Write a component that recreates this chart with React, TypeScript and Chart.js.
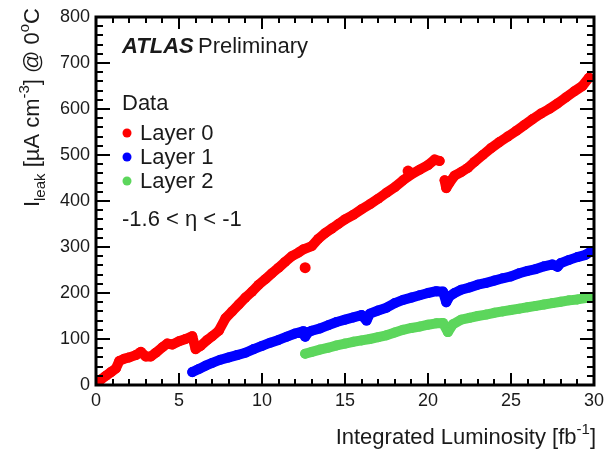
import React, { useEffect, useRef } from "react";
import { Chart, registerables } from "chart.js";

Chart.register(...registerables);

// ---- Data ----
const layer0Lumi = [
  0.0, 0.3, 0.6, 0.9, 1.2, 1.4, 1.7, 2.0, 2.4, 2.7, 3.0, 3.3, 3.6, 4.0, 4.3, 4.6, 5.0, 5.4, 5.8, 6.0,
  6.3, 6.7, 7.0, 7.4, 7.8, 8.2, 8.6, 9.0, 9.4, 9.8, 10.2, 10.6, 11.0, 11.4, 11.8, 12.2, 12.5, 13.0,
  13.4, 13.8, 14.2, 14.6, 15.0, 15.5, 16.0, 16.5, 17.0, 17.5, 18.0, 18.5, 19.0, 19.5, 20.0, 20.4,
  20.7, 20.85, 21.0, 21.1, 21.3, 21.6, 22.0, 22.4, 22.8, 23.3, 23.8, 24.3, 24.8, 25.3, 25.8, 26.3,
  26.8, 27.3, 27.8, 28.3, 28.8, 29.3, 29.7,
];
const layer0Ileak = [
  8, 12, 20, 28, 36, 52, 57, 60, 65, 72, 62, 62, 70, 82, 90, 88, 95, 100, 106, 78,
  85, 98, 106, 118, 145, 160, 175, 190, 203, 218, 230, 243, 255, 268, 280, 288, 295, 302,
  318, 330, 340, 350, 360, 370, 382, 393, 405, 418, 430, 445, 458, 468, 478, 490,
  487, null, 445, 428, 440, 455, 463, 472, 485, 500, 515, 528, 540, 552, 565, 578,
  590, 600, 612, 625, 638, 650, 668,
];
const layer0OutlierLumi = [12.6, 18.8];
const layer0OutlierIleak = [255, 465];

const layer1Lumi = [
  5.8, 6.2, 6.6, 7.0, 7.5, 8.0, 8.5, 9.0, 9.5, 10.0, 10.5, 11.0, 11.5, 12.0, 12.5, 12.6, 12.8, 13.0,
  13.5, 14.0, 14.5, 15.0, 15.5, 16.0, 16.3, 16.5, 17.0, 17.5, 18.0, 18.5, 19.0, 19.5, 20.0, 20.5,
  20.9, 21.1, 21.3, 21.6, 22.0, 22.5, 23.0, 23.5, 24.0, 24.5, 25.0, 25.5, 26.0, 26.5, 27.0, 27.5,
  27.8, 28.0, 28.5, 29.0, 29.5, 29.8,
];
const layer1Ileak = [
  28, 35, 42, 48, 55, 60, 65, 70, 78, 85, 92, 98, 105, 112, 117, 105, 115, 118,
  123, 130, 137, 142, 147, 152, 140, 155, 162, 168, 178, 185, 190, 195, 200, 204,
  203, 180, 193, 200, 207, 212, 218, 222, 227, 232, 236, 243, 248, 252, 258, 262,
  257, 265, 272, 278, 283, 290,
];

const layer2Lumi = [
  12.6, 13.0, 13.5, 14.0, 14.5, 15.0, 15.5, 16.0, 16.5, 17.0, 17.5, 18.0, 18.5, 19.0, 19.5, 20.0,
  20.5, 20.9, 21.2, 21.5, 22.0, 22.5, 23.0, 23.5, 24.0, 24.5, 25.0, 25.5, 26.0, 26.5, 27.0, 27.5,
  28.0, 28.5, 29.0, 29.5, 29.8,
];
const layer2Ileak = [
  68, 72, 77, 81, 86, 90, 94, 97, 100, 104, 108, 114, 120, 124, 127, 131,
  134, 135, 115, 132, 142, 146, 150, 153, 157, 160, 163, 166, 169, 172, 175, 178,
  181, 184, 186, 189, 191,
];

const xTickLabels = ["0", "5", "10", "15", "20", "25", "30"];
const yTickLabels = ["0", "100", "200", "300", "400", "500", "600", "700", "800"];

const seriesNames = ["Layer 0", "Layer 1", "Layer 2"];
const seriesColors = ["#ff0000", "#0000ff", "#5cd65c"];

const FONT = "'Liberation Sans', Arial, sans-serif";
const TEXT = "#1a1a1a";

const toPoints = (xs: number[], ys: (number | null)[]) => xs.map((x, i) => ({ x, y: ys[i] }));

const framePlugin = {
  id: "rootFrame",
  afterDatasetsDraw(chart: any) {
    const { ctx, chartArea: a, scales } = chart;
    const x = scales.x;
    const y = scales.y;
    ctx.save();
    ctx.strokeStyle = "#000";
    ctx.lineWidth = 2;
    ctx.beginPath();
    for (let v = 0; v <= 30; v += 1) {
      const px = Math.round(x.getPixelForValue(v));
      const len = v % 5 === 0 ? 12 : 6;
      ctx.moveTo(px, a.bottom);
      ctx.lineTo(px, a.bottom - len);
      ctx.moveTo(px, a.top);
      ctx.lineTo(px, a.top + len);
    }
    for (let v = 0; v <= 800; v += 20) {
      const py = Math.round(y.getPixelForValue(v));
      const len = v % 100 === 0 ? 14 : 7;
      ctx.moveTo(a.left, py);
      ctx.lineTo(a.left + len, py);
      ctx.moveTo(a.right, py);
      ctx.lineTo(a.right - len, py);
    }
    ctx.stroke();
    ctx.lineWidth = 3;
    ctx.strokeRect(a.left, a.top, a.right - a.left, a.bottom - a.top);

    // ---- texts ----
    ctx.fillStyle = TEXT;
    ctx.textBaseline = "alphabetic";
    ctx.textAlign = "left";
    ctx.font = `italic bold 22px ${FONT}`;
    ctx.fillText("ATLAS", 122, 53);
    ctx.font = `22px ${FONT}`;
    ctx.fillText("Preliminary", 198, 53);
    ctx.fillText("Data", 122, 110);
    const rows = [140, 164, 188];
    seriesNames.forEach((n, i) => {
      ctx.fillStyle = seriesColors[i];
      ctx.beginPath();
      ctx.arc(127, rows[i] - 7, 4.5, 0, Math.PI * 2);
      ctx.fill();
      ctx.fillStyle = TEXT;
      ctx.fillText(n, 140, rows[i]);
    });
    ctx.fillText("-1.6 < \u03b7 < -1", 122, 226);

    const xParts: [string, number, number][] = [
      ["Integrated Luminosity [fb", 22, 0],
      ["-1", 15, -10],
      ["]", 22, 0],
    ];
    let total = 0;
    xParts.forEach(([t, s]) => {
      ctx.font = `${s}px ${FONT}`;
      total += ctx.measureText(t).width;
    });
    let cx = 596 - total;
    xParts.forEach(([t, s, dy]) => {
      ctx.font = `${s}px ${FONT}`;
      ctx.fillText(t, cx, 444 + dy);
      cx += ctx.measureText(t).width;
    });

    const yParts: [string, number, number][] = [
      ["I", 22, 0],
      ["leak", 15, 6],
      [" [\u00b5A cm", 22, 0],
      ["-3", 15, -10],
      ["] @ 0", 22, 0],
      ["o", 15, -10],
      ["C", 22, 0],
    ];
    let ytotal = 0;
    yParts.forEach(([t, s]) => {
      ctx.font = `${s}px ${FONT}`;
      ytotal += ctx.measureText(t).width;
    });
    ctx.translate(39, 8 + ytotal);
    ctx.rotate(-Math.PI / 2);
    let cy = 0;
    yParts.forEach(([t, s, dy]) => {
      ctx.font = `${s}px ${FONT}`;
      ctx.fillText(t, cy, dy);
      cy += ctx.measureText(t).width;
    });
    ctx.restore();
  },
};

export default function App() {
  const ref = useRef<HTMLCanvasElement | null>(null);
  useEffect(() => {
    if (!ref.current) return;
    const lineDs = (label: string, pts: any[], color: string) => ({
      label,
      data: pts,
      showLine: true,
      borderColor: color,
      backgroundColor: color,
      borderWidth: 10,
      borderJoinStyle: "round" as const,
      borderCapStyle: "round" as const,
      pointRadius: 5,
      pointBorderWidth: 0,
      spanGaps: false,
    });
    const chart = new Chart(ref.current, {
      type: "scatter",
      data: {
        datasets: [
          lineDs(seriesNames[2], toPoints(layer2Lumi, layer2Ileak), seriesColors[2]),
          lineDs(seriesNames[1], toPoints(layer1Lumi, layer1Ileak), seriesColors[1]),
          lineDs(seriesNames[0], toPoints(layer0Lumi, layer0Ileak), seriesColors[0]),
          {
            label: "Layer 0 outliers",
            data: toPoints(layer0OutlierLumi, layer0OutlierIleak),
            backgroundColor: seriesColors[0],
            borderWidth: 0,
            pointRadius: 5.5,
            showLine: false,
          },
        ],
      },
      options: {
        animation: false,
        responsive: false,
        layout: { padding: { top: 17, right: 13, left: 0, bottom: 0 } },
        plugins: { legend: { display: false }, tooltip: { enabled: false } },
        scales: {
          x: {
            type: "linear",
            min: 0,
            max: 30,
            afterBuildTicks: (s: any) => {
              s.ticks = xTickLabels.map((t) => ({ value: Number(t) }));
            },
            ticks: {
              font: { family: FONT, size: 18 },
              color: TEXT,
              padding: 5,
              maxRotation: 0,
              autoSkip: false,
            },
            grid: { display: false, drawTicks: false },
            border: { display: false },
            afterFit: (s: any) => {
              s.height = 65;
            },
          },
          y: {
            type: "linear",
            min: 0,
            max: 800,
            afterBuildTicks: (s: any) => {
              s.ticks = yTickLabels.map((t) => ({ value: Number(t) }));
            },
            ticks: {
              font: { family: FONT, size: 18 },
              color: TEXT,
              padding: 6,
              autoSkip: false,
            },
            grid: { display: false, drawTicks: false },
            border: { display: false },
            afterFit: (s: any) => {
              s.width = 96;
            },
          },
        },
      },
      plugins: [framePlugin],
    });
    return () => chart.destroy();
  }, []);
  return (
    <div style={{ position: "absolute", left: 0, top: 0, width: 609, height: 450, background: "#fff" }}>
      <canvas ref={ref} width={609} height={450} style={{ width: 609, height: 450 }} />
    </div>
  );
}
